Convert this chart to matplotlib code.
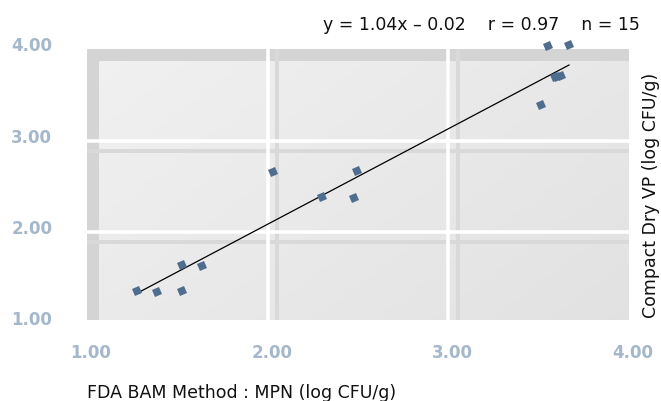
import numpy as np
import matplotlib
matplotlib.use("Agg")
import matplotlib.pyplot as plt
from matplotlib.markers import MarkerStyle
from matplotlib.transforms import Affine2D, ScaledTranslation
from matplotlib.patches import Rectangle

# ---- data ----
bam_mpn = [1.278, 1.386, 1.524, 1.524, 1.635, 2.031, 2.299, 2.480, 2.493,
           3.511, 3.550, 3.590, 3.600, 3.622, 3.670]
compact_dry = [1.350, 1.346, 1.354, 1.642, 1.631, 2.660, 2.380, 2.372, 2.665,
               3.391, 4.034, 3.694, 3.700, 3.712, 4.051]
fit_x = [1.293, 3.668]
fit_y = [1.346, 3.829]
x_ticks = [1.0, 2.0, 3.0, 4.0]
y_ticks = [1.0, 2.0, 3.0, 4.0]
x_tick_labels = ["1.00", "2.00", "3.00", "4.00"]
y_tick_labels = ["1.00", "2.00", "3.00", "4.00"]
stats_text = "y = 1.04x \u2013 0.02    r = 0.97    n = 15"
x_label = "FDA BAM Method : MPN (log CFU/g)"
y_label = "Compact Dry VP (log CFU/g)"

plt.rcParams['font.family'] = ['DejaVu Sans']

W, H = 661, 402
fig = plt.figure(figsize=(W / 100, H / 100), dpi=100)
ax_left, ax_right = 87, 629
ax_top, ax_bottom = 50.4, 324.3
ax = fig.add_axes([ax_left / W, (H - ax_bottom) / H,
                   (ax_right - ax_left) / W, (ax_bottom - ax_top) / H])
ax.set_facecolor('none')
for s in ax.spines.values():
    s.set_visible(False)

# background gradient panel
ybot = 1.035
gx, gy = np.meshgrid(np.linspace(0, 1, 200), np.linspace(0, 1, 100))
grad = 0.6 * gx + 0.4 * gy
c0 = np.array([0.945, 0.945, 0.945])
c1 = np.array([0.885, 0.885, 0.885])
img = c0[None, None, :] * (1 - grad[..., None]) + c1[None, None, :] * grad[..., None]
ax.imshow(img, extent=[1, 4, ybot, 4], origin='upper', aspect='auto', zorder=0,
          interpolation='bilinear')
ax.set_xlim(1, 4)
ax.set_ylim(1, 4)

band = '#d4d4d4'
px_x = 3.0 / (ax_right - ax_left)
px_y = 3.0 / (ax_bottom - ax_top)
# outer frame bands (left & top)
ax.add_patch(Rectangle((1, ybot), 12 * px_x, 4 - ybot, color=band, lw=0, zorder=1))
ax.add_patch(Rectangle((1, 4 - 12 * px_y), 3, 12 * px_y, color=band, lw=0, zorder=1))
# inner shadow bands
for g in (2.0, 3.0):
    ax.add_patch(Rectangle((g + 7.5 * px_x, ybot), 4 * px_x, 4 - ybot,
                           color='#d9d9d9', lw=0, zorder=1))
    ax.add_patch(Rectangle((1, g - 12 * px_y), 3, 4 * px_y,
                           color='#d9d9d9', lw=0, zorder=1))
# white gridlines
for g in (2.0, 3.0):
    ax.axvline(g, color='white', lw=2.6, zorder=2)
    ax.axhline(g, color='white', lw=2.6, zorder=2)

# regression line
ax.plot(fit_x, fit_y, color='black', lw=0.9, zorder=3, clip_on=False)

# points
mk = MarkerStyle('s', transform=Affine2D().rotate_deg(22))
ax.plot(bam_mpn, compact_dry, linestyle='none', marker=mk, ms=5.2,
        color='#4f6d8f', mec='#4f6d8f', mew=0, zorder=4, clip_on=False)

# ticks
tick_color = '#a5b8cb'
ax.set_xticks(x_ticks)
ax.set_xticklabels(x_tick_labels)
ax.set_yticks(y_ticks)
ax.set_yticklabels(y_tick_labels)
ax.tick_params(length=0, labelsize=12, labelcolor=tick_color)
ax.tick_params(axis='x', pad=14)
ax.tick_params(axis='y', pad=25)
for lab in ax.get_xticklabels():
    lab.set_fontweight('bold')
    lab.set_transform(lab.get_transform() + ScaledTranslation(4 / 100, 0, fig.dpi_scale_trans))
for lab in ax.get_yticklabels():
    lab.set_fontweight('bold')
    lab.set_transform(lab.get_transform() + ScaledTranslation(0, 6 / 100, fig.dpi_scale_trans))

# texts
fig.text(640 / W, 1 - 25 / H, stats_text, ha='right', va='center', fontsize=12.5, color='#111111')
fig.text(87 / W, 1 - 393 / H, x_label, ha='left', va='center', fontsize=12.5, color='#111111')
fig.text(651 / W, 1 - 195 / H, y_label, ha='center', va='center', rotation=90,
         fontsize=12.5, color='#111111')

fig.savefig('out.png', dpi=100)
